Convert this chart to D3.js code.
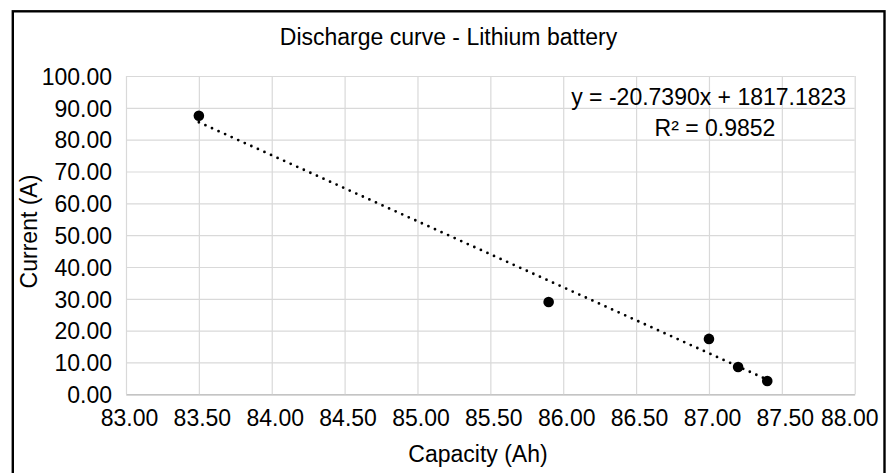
<!DOCTYPE html>
<html>
<head>
<meta charset="utf-8">
<script src="https://cdn.jsdelivr.net/npm/d3@7"></script>
<style>
  body { margin: 0; background: #fff; }
  svg text { font-family: "Liberation Sans", Arial, sans-serif; fill: #000; }
</style>
</head>
<body>
<svg id="chart" width="887" height="473"></svg>
<script>
// data
var capacity = [83.5, 85.9, 87.0, 87.2, 87.4];   // Ah
var current = [87.5, 29.0, 17.4, 8.6, 4.2];      // A
var trend = [-20.7390, 1817.1823];               // slope, intercept
var xTicks = [83, 83.5, 84, 84.5, 85, 85.5, 86, 86.5, 87, 87.5, 88];
var yTicks = [0, 10, 20, 30, 40, 50, 60, 70, 80, 90, 100];
var eqLines = ["y = -20.7390x + 1817.1823", "R\u00b2 = 0.9852"];

var svg = d3.select("#chart");
var m = { left: 126, right: 854.7, top: 76, bottom: 394.3 };

var x = d3.scaleLinear().domain([83, 88]).range([m.left, m.right]);
var y = d3.scaleLinear().domain([0, 100]).range([m.bottom, m.top]);
var fmt = d3.format(".2f");

// outer frame
svg.append("rect")
  .attr("x", 12.8).attr("y", 11.3)
  .attr("width", 871.7).attr("height", 480)
  .attr("fill", "none").attr("stroke", "#000").attr("stroke-width", 2.4);

// y axis + horizontal grid
var gy = svg.append("g")
  .attr("transform", "translate(" + m.left + ",0)")
  .call(d3.axisLeft(y).tickValues(yTicks).tickFormat(fmt)
    .tickSize(-(m.right - m.left)).tickPadding(14));
gy.select(".domain").remove();
gy.selectAll(".tick line").attr("stroke", "#d9d9d9").attr("stroke-width", 1.2);
gy.selectAll(".tick text").style("font-size", "23px").attr("dy", "0.36em");

// x axis + vertical grid
var gx = svg.append("g")
  .attr("transform", "translate(0," + m.bottom + ")")
  .call(d3.axisBottom(x).tickValues(xTicks).tickFormat(fmt)
    .tickSize(-(m.bottom - m.top)).tickSizeOuter(0).tickPadding(15.4));
gx.select(".domain").attr("stroke", "#c4c4c4").attr("stroke-width", 1.4);
gx.selectAll(".tick line").attr("stroke", "#d9d9d9").attr("stroke-width", 1.2);
gx.selectAll(".tick text").style("font-size", "23px")
  .attr("x", 3)
  .each(function(d) {
    // keep the last label inside the frame
    var w = this.getComputedTextLength();
    var right = x(d) + 3 + w / 2;
    if (right > 878) d3.select(this).attr("x", 3 - (right - 878));
  });

// trendline (dotted)
var xr = d3.extent(capacity);
var line = d3.line().x(function(d) { return x(d); })
  .y(function(d) { return y(trend[0] * d + trend[1]); });
svg.append("path")
  .datum(xr)
  .attr("d", line)
  .attr("fill", "none")
  .attr("stroke", "#000")
  .attr("stroke-width", 2.8)
  .attr("stroke-linecap", "round")
  .attr("stroke-dasharray", "0,7.2");

// points
svg.append("g").selectAll("circle")
  .data(capacity)
  .enter()
  .append("circle")
  .attr("cx", function(d) { return x(d); })
  .attr("cy", function(d, i) { return y(current[i]); })
  .attr("r", 5.3)
  .attr("fill", "#000");

// equation label
svg.append("text").attr("x", 708.7).attr("y", 105)
  .attr("text-anchor", "middle").style("font-size", "23px").text(eqLines[0]);
svg.append("text").attr("x", 715).attr("y", 136)
  .attr("text-anchor", "middle").style("font-size", "23px").text(eqLines[1]);

// titles
svg.append("text").attr("x", 448.5).attr("y", 45)
  .attr("text-anchor", "middle").style("font-size", "23px")
  .text("Discharge curve - Lithium battery");
svg.append("text").attr("x", 478).attr("y", 461.5)
  .attr("text-anchor", "middle").style("font-size", "23px")
  .text("Capacity (Ah)");
svg.append("text")
  .attr("transform", "translate(37,231.5) rotate(-90)")
  .attr("text-anchor", "middle").style("font-size", "23px")
  .text("Current (A)");
</script>
</body>
</html>
